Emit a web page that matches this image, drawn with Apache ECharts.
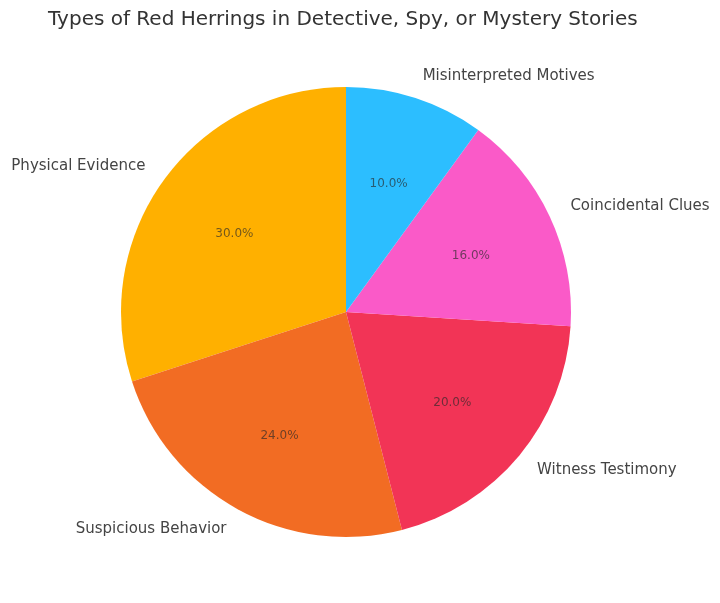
<!DOCTYPE html>
<html>
<head>
<meta charset="utf-8">
<title>Types of Red Herrings</title>
<script src="https://cdn.jsdelivr.net/npm/echarts@6/dist/echarts.min.js"></script>
<style>
  html, body { margin: 0; padding: 0; background: #fff; }
  #chart { width: 720px; height: 603px; }
</style>
</head>
<body>
<div id="chart"></div>
<script>
// data
const categories = ['Physical Evidence', 'Suspicious Behavior', 'Witness Testimony', 'Coincidental Clues', 'Misinterpreted Motives'];
const shares = [30, 24, 20, 16, 10];
const sliceColors = ['#FFB000', '#F26C23', '#F23456', '#FA5AC8', '#2CBEFF'];

const chart = echarts.init(document.getElementById('chart'));
const R = 225;
const center = [346, 312];
const font = 'DejaVu Sans, sans-serif';

const pieData = categories.map((name, i) => ({
    name: name,
    value: shares[i],
    itemStyle: { color: sliceColors[i] }
}));

chart.setOption({
    animation: false,
    title: {
        text: 'Types of Red Herrings in Detective, Spy, or Mystery Stories',
        left: 43,
        top: 5,
        textStyle: { fontFamily: font, fontSize: 20, fontWeight: 'normal', color: '#333' }
    },
    series: [
        {
            // slices + category labels outside
            type: 'pie',
            center: center,
            radius: R,
            startAngle: 90,
            clockwise: false,
            avoidLabelOverlap: false,
            silent: true,
            data: pieData,
            label: {
                show: true,
                position: 'outside',
                formatter: '{b}',
                fontFamily: font,
                fontSize: 15,
                color: '#444',
                distanceToLabelLine: 0
            },
            labelLine: { show: false, length: 23, length2: 0 }
        },
        {
            // invisible ring used only to put the percentages at 0.6 R
            type: 'pie',
            center: center,
            radius: R * 1.2,
            startAngle: 90,
            clockwise: false,
            silent: true,
            z: 3,
            data: categories.map((name, i) => ({
                name: name,
                value: shares[i],
                itemStyle: { color: 'rgba(0,0,0,0)' }
            })),
            label: {
                show: true,
                position: 'inside',
                formatter: p => p.value.toFixed(1) + '%',
                fontFamily: font,
                fontSize: 12,
                color: 'rgba(40,40,40,0.65)',
                offset: [0, 3]
            },
            labelLine: { show: false }
        }
    ]
});
</script>
</body>
</html>
